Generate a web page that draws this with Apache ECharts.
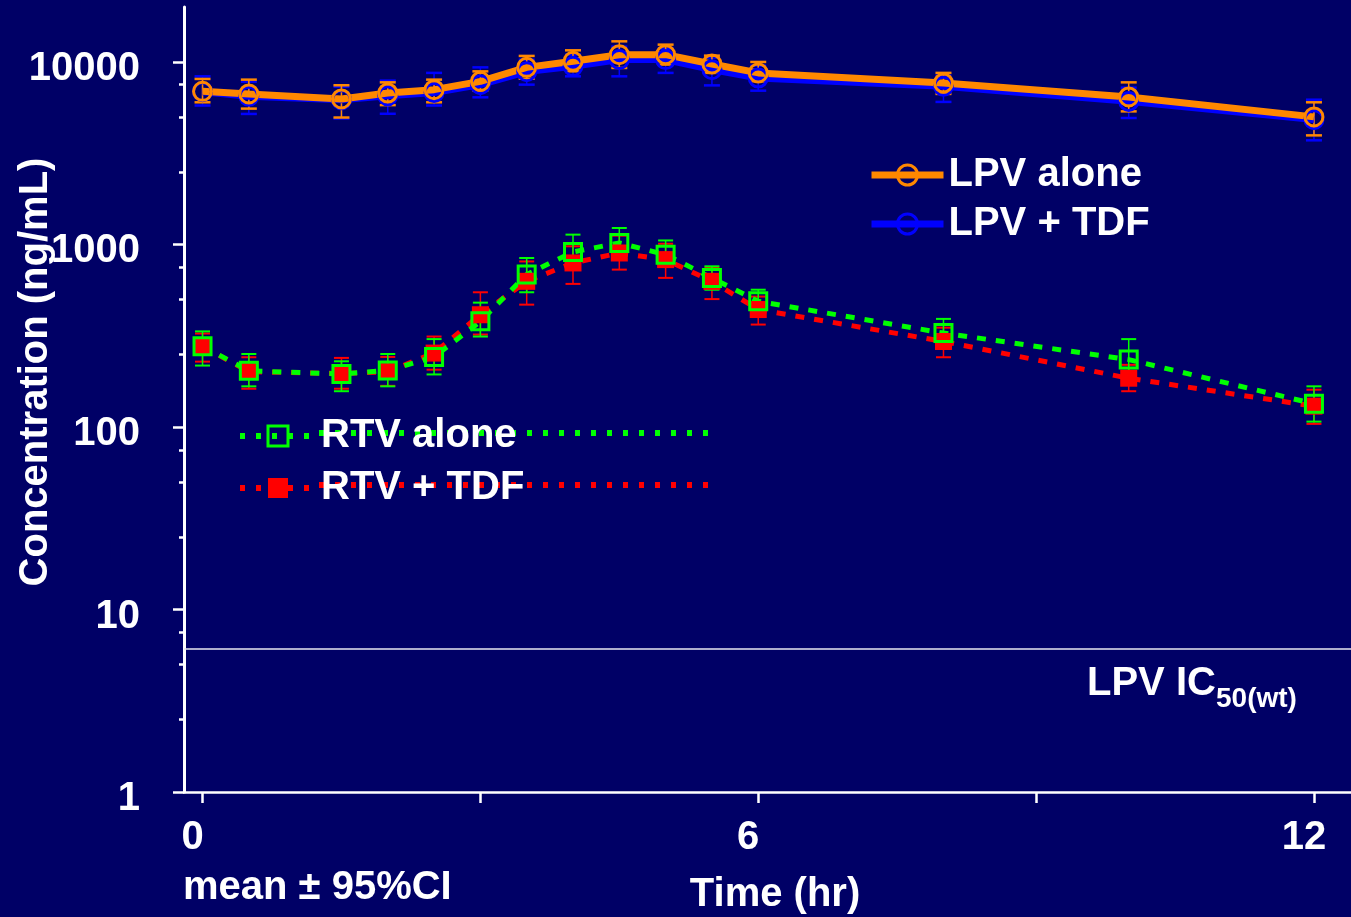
<!DOCTYPE html>
<html><head><meta charset="utf-8">
<script src="https://cdn.jsdelivr.net/npm/echarts@6/dist/echarts.min.js"></script>
<style>html,body{margin:0;padding:0;background:#000066;} #chart{width:1351px;height:917px;}</style>
</head><body><div id="chart"></div>
<script>
// ---- data ----
const times = [0, 0.5, 1.5, 2, 2.5, 3, 3.5, 4, 4.5, 5, 5.5, 6, 8, 10, 12];
const lpvAlone   = [6900, 6680, 6270, 6760, 7050, 7830, 9340, 10080, 10960, 10960, 9750, 8710, 7670, 6430, 5000];
const lpvAloneLo = [6010, 5550, 4960, 5800, 6010, 6970, 8090, 8880, 9270, 9670, 8710, 7830, 6680, 5360, 3960];
const lpvAloneHi = [8070, 8000, 7450, 7730, 8000, 8880, 10790, 11580, 12970, 12440, 10830, 10000, 8710, 7730, 6010];
const lpvTdf   = [6870, 6490, 6210, 6530, 6800, 7510, 8850, 9460, 10300, 10300, 9070, 8170, 7350, 6080, 4830];
const lpvTdfLo = [5770, 5190, 4900, 5200, 5770, 6400, 7510, 8340, 8340, 8710, 7440, 6960, 6040, 4930, 3720];
const lpvTdfHi = [8340, 7800, 7320, 7900, 8710, 9340, 10300, 10960, 12130, 11830, 10560, 9540, 8410, 7230, 6210];
const rtvAlone   = [277, 203, 195, 204, 242, 379, 684, 910, 1019, 879, 655, 488, 327, 234, 134];
const rtvAloneLo = [217, 167, 157, 167, 194, 313, 547, 728, 887, 759, 565, 423, 269, 174, 107];
const rtvAloneHi = [334, 251, 229, 251, 303, 480, 843, 1132, 1231, 1052, 759, 565, 391, 303, 167];
const rtvTdf   = [277, 201, 196, 201, 254, 412, 628, 792, 898, 826, 628, 440, 294, 185, 130];
const rtvTdfLo = [228, 162, 162, 168, 206, 321, 468, 608, 728, 656, 502, 364, 241, 157, 104];
const rtvTdfHi = [325, 241, 239, 242, 313, 547, 807, 977, 1117, 1009, 747, 518, 350, 219, 160];
const ic50 = 6.1;
const yTickValues = [1, 10, 100, 1000, 10000];
const yTickLabels = ['1', '10', '100', '1000', '10000'];
const yMinorValues = [2.5, 5, 7.5, 25, 50, 75, 250, 500, 750, 2500, 5000, 7500];
const yMin = 1, yMax = 20000;
const xTickValues = [0, 3, 6, 9, 12];
const xLabelValues = [0, 6, 12];
const xTickLabels = ['0', '6', '12'];
const xMin = -0.2, xMax = 12.4;

// ---- styles ----
const FONT = '"Liberation Sans", Arial, sans-serif';
const WHITE = '#ffffff';
const C_ORANGE = '#ff8800', C_BLUE = '#0000ff', C_GREEN = '#00ff00', C_RED = '#ff0000';

function pairs(v) { return times.map((t, i) => [t, v[i]]); }

function errSeries(name, lo, hi, color, capW, lw, capLw) {
  return {
    type: 'custom', name: name + ' CI', silent: true,
    data: times.map((t, i) => [t, lo[i], hi[i]]),
    encode: { x: 0, y: [1, 2] },
    renderItem: function (params, api) {
      const x = api.value(0);
      const p1 = api.coord([x, api.value(1)]);
      const p2 = api.coord([x, api.value(2)]);
      const h = capW / 2;
      return { type: 'group', children: [
        { type: 'line', shape: { x1: p1[0], y1: p1[1], x2: p2[0], y2: p2[1] }, style: { stroke: color, lineWidth: lw } },
        { type: 'line', shape: { x1: p1[0] - h, y1: p1[1], x2: p1[0] + h, y2: p1[1] }, style: { stroke: color, lineWidth: capLw } },
        { type: 'line', shape: { x1: p2[0] - h, y1: p2[1], x2: p2[0] + h, y2: p2[1] }, style: { stroke: color, lineWidth: capLw } }
      ]};
    }
  };
}

function lineSeries(name, vals, color, symbol, filled, dash, width, size) {
  return {
    type: 'line', name: name, data: pairs(vals),
    symbol: symbol, symbolSize: size, showSymbol: true,
    lineStyle: { color: color, width: width, type: dash, cap: 'butt' },
    itemStyle: { color: filled ? color : 'rgba(0,0,0,0)', borderColor: color, borderWidth: filled ? 0 : 3 },
    emphasis: { disabled: true }
  };
}

const blueLine = lineSeries('LPV + TDF', lpvTdf, C_BLUE, 'circle', false, 'solid', 7, 18);
blueLine.markLine = {
  silent: true, symbol: 'none', label: { show: false },
  lineStyle: { color: '#e8e8f0', width: 1.5, type: 'solid' },
  data: [{ yAxis: ic50 }]
};

const series = [
  errSeries('LPV + TDF', lpvTdfLo, lpvTdfHi, C_BLUE, 16, 1.5, 2.5),
  blueLine,
  errSeries('LPV alone', lpvAloneLo, lpvAloneHi, C_ORANGE, 16, 1.5, 2.5),
  lineSeries('LPV alone', lpvAlone, C_ORANGE, 'circle', false, 'solid', 7, 18),
  errSeries('RTV + TDF', rtvTdfLo, rtvTdfHi, C_RED, 15, 1.5, 2),
  lineSeries('RTV + TDF', rtvTdf, C_RED, 'rect', true, [9, 10], 5, 17),
  errSeries('RTV alone', rtvAloneLo, rtvAloneHi, C_GREEN, 15, 1.5, 2),
  lineSeries('RTV alone', rtvAlone, C_GREEN, 'rect', false, [9, 10], 5, 17)
];

function legendFor(name, left, cy, iw, lineStyle, itemStyle) {
  return {
    data: [name], left: left, top: cy - 20, padding: 0, itemWidth: iw, itemHeight: 25,
    selectedMode: false, orient: 'horizontal',
    lineStyle: lineStyle, itemStyle: itemStyle,
    textStyle: { color: WHITE, fontSize: 40, fontWeight: 'bold', fontFamily: FONT }
  };
}

const bigText = { color: WHITE, fontSize: 40, fontWeight: 'bold', fontFamily: FONT };

const option = {
  backgroundColor: '#000066',
  animation: false,
  grid: { left: 184, right: 0, top: 7, bottom: 125, containLabel: false },
  xAxis: {
    type: 'value', min: xMin, max: xMax,
    axisLine: { show: true, onZero: false, lineStyle: { color: WHITE, width: 2.5 } },
    axisTick: { show: true, customValues: xTickValues, length: 11, lineStyle: { color: WHITE, width: 2.5 } },
    axisLabel: { show: true, customValues: xLabelValues, margin: 26, padding: [0, 20, 0, 0],
      formatter: v => xTickLabels[xLabelValues.indexOf(v)], ...bigText },
    splitLine: { show: false }
  },
  yAxis: [
    { type: 'log', logBase: 10, min: yMin, max: yMax, position: 'left',
      axisLine: { show: true, onZero: false, lineStyle: { color: WHITE, width: 3 } },
      axisTick: { show: false }, axisLabel: { show: false }, splitLine: { show: false }, minorTick: { show: false } },
    { type: 'value', min: 0, max: Math.log10(yMax), position: 'left', offset: 0,
      axisLine: { show: false, onZero: false },
      axisTick: { show: true, customValues: yTickValues.map(Math.log10), length: 11, lineStyle: { color: WHITE, width: 2.5 } },
      axisLabel: { show: true, customValues: yTickValues.map(Math.log10), margin: 44,
        formatter: function (v) {
          for (let i = 0; i < yTickValues.length; i++) if (Math.abs(Math.log10(yTickValues[i]) - v) < 1e-6) return '{t|' + yTickLabels[i] + '}';
          return '';
        },
        rich: { t: { ...bigText, padding: [14, 0, 0, 0] } } },
      splitLine: { show: false } },
    { type: 'value', min: 0, max: Math.log10(yMax), position: 'left', offset: 0,
      axisLine: { show: false, onZero: false },
      axisTick: { show: true, customValues: yMinorValues.map(Math.log10), length: 5, lineStyle: { color: WHITE, width: 2.5 } },
      axisLabel: { show: false }, splitLine: { show: false } }
  ],
  legend: [
    legendFor('LPV alone', 868, 175, 72, { width: 7 }, { borderWidth: 3 }),
    legendFor('LPV + TDF', 868, 224, 72, { width: 7 }, { borderWidth: 3 }),
    legendFor('RTV alone', 237, 436, 76, { type: [5, 11], width: 6 }, { borderWidth: 3 }),
    legendFor('RTV + TDF', 237, 488, 76, { type: [5, 11], width: 6 }, { borderWidth: 0 })
  ],
  graphic: [
    { type: 'line', z: 1, shape: { x1: 319, y1: 433, x2: 712, y2: 433 },
      style: { stroke: C_GREEN, lineWidth: 6, lineDash: [5, 11] } },
    { type: 'line', z: 1, shape: { x1: 319, y1: 485, x2: 712, y2: 485 },
      style: { stroke: C_RED, lineWidth: 6, lineDash: [5, 11] } },
    { type: 'text', x: 36, y: 372, rotation: Math.PI / 2,
      style: { text: 'Concentration (ng/mL)', fill: WHITE, font: 'bold 40px ' + FONT,
        textAlign: 'center', textVerticalAlign: 'middle', align: 'center', verticalAlign: 'middle' } },
    { type: 'text', x: 775, y: 895,
      style: { text: 'Time (hr)', fill: WHITE, font: 'bold 40px ' + FONT,
        textAlign: 'center', textVerticalAlign: 'middle', align: 'center', verticalAlign: 'middle' } },
    { type: 'text', x: 183, y: 888,
      style: { text: 'mean \u00b1 95%CI', fill: WHITE, font: 'bold 40px ' + FONT,
        textAlign: 'left', textVerticalAlign: 'middle', align: 'left', verticalAlign: 'middle' } },
    { type: 'text', x: 1087, y: 684,
      style: { text: 'LPV IC', fill: WHITE, font: 'bold 40px ' + FONT,
        textAlign: 'left', textVerticalAlign: 'middle', align: 'left', verticalAlign: 'middle' } },
    { type: 'text', x: 1216, y: 699,
      style: { text: '50(wt)', fill: WHITE, font: 'bold 28px ' + FONT,
        textAlign: 'left', textVerticalAlign: 'middle', align: 'left', verticalAlign: 'middle' } }
  ],
  series: series
};

const chart = echarts.init(document.getElementById('chart'), null, { renderer: 'canvas' });
chart.setOption(option);
</script>
</body></html>
